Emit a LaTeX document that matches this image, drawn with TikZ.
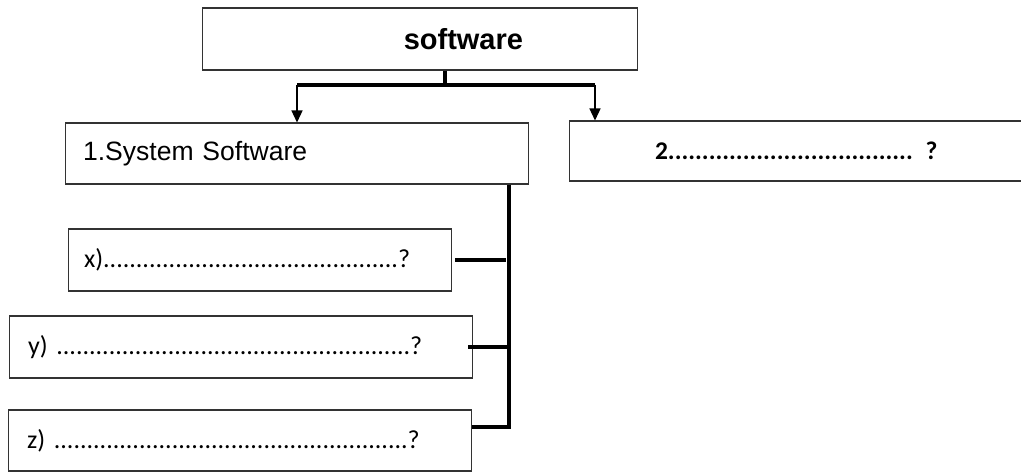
\documentclass[tikz,border=0pt]{standalone}
\usepackage{fontspec}
\setmainfont{Liberation Sans}
\newfontfamily\calib{Carlito}
\usetikzlibrary{arrows.meta, positioning}

\begin{document}
\begin{tikzpicture}[
    x=0.02cm, y=-0.02cm,
    box/.style={
        draw=black!80,
        line width=0.6pt,
        rectangle,
        inner ysep=0pt,
        align=left,
    },
    trunk/.style={
        line width=1.8pt,
    },
    branch/.style={
        line width=0.8pt,
        -{Triangle[width=0.22cm, length=0.24cm]},
    },
    stub/.style={
        line width=2.3pt,
    }
]
    \useasboundingbox (0,0) rectangle (1021,473);

    % Top box
    \node[box, align=right, minimum height=1.24cm, inner xsep=2.3cm, text width=4.12cm,
          font=\fontsize{16.5}{20}\selectfont\bfseries] (software) at (420,39) {software};

    % Second level
    \node[box, minimum height=1.22cm, inner xsep=0.36cm, text width=8.56cm,
          font=\fontsize{15.1}{18}\selectfont] (sys) at (297,153.5) {1.System Software};
    \node[box, minimum height=1.20cm, inner xsep=1.72cm, text width=5.88cm,
          font=\fontsize{14.5}{18}\calib\bfseries] (other) at (802,151) {2.................................... ?};

    % Kinds of system software
    \node[box, minimum height=1.24cm, inner xsep=0.32cm, text width=7.04cm,
          font=\fontsize{14.8}{18}\calib] (xbox) at (260,260) {x).............................................?};
    \node[box, minimum height=1.24cm, inner xsep=0.38cm, text width=8.52cm,
          font=\fontsize{14.8}{18}\calib] (ybox) at (241,347) {y) ......................................................?};
    \node[box, minimum height=1.22cm, inner xsep=0.38cm, text width=8.52cm,
          font=\fontsize{14.8}{18}\calib] (zbox) at (240,440.5) {z) ......................................................?};

    % Connectors
    \coordinate (fork) at (445,85);
    \coordinate (drop) at (595,85);
    \coordinate (spine) at (509,427);

    \draw[trunk] (software.south -| fork) -- (fork);
    \draw[trunk] (sys.north |- fork) -- (drop);
    \draw[branch] (sys.north |- fork) -- (sys.north);
    \draw[branch] (drop) -- (other.north -| drop);

    \draw[trunk] (sys.south -| spine) -- (spine) -- (zbox.east |- spine);
    \draw[stub, shorten <=0.06cm, shorten >=0.06cm] (xbox.east) -- (xbox.east -| spine);
    \draw[stub, shorten <=-0.1cm] (ybox.east) -- (ybox.east -| spine);
\end{tikzpicture}
\end{document}
